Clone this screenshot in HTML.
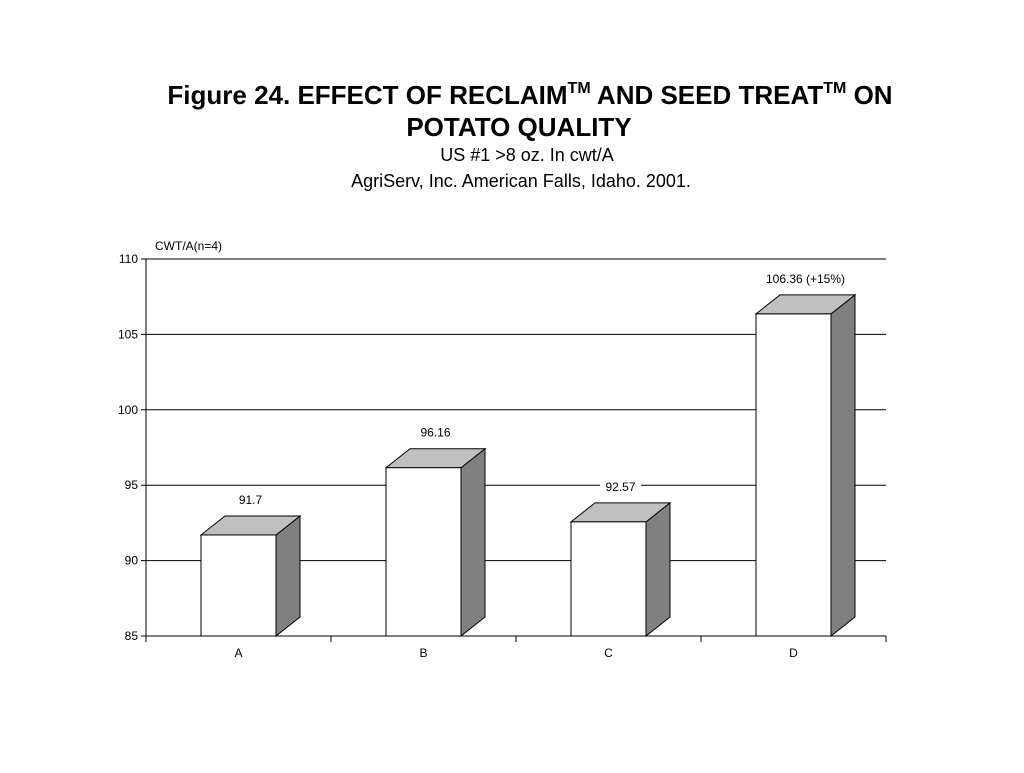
<!DOCTYPE html>
<html><head><meta charset="utf-8"><style>
body{margin:0;background:#fff;width:1024px;height:768px;overflow:hidden;font-family:"Liberation Sans",sans-serif}
</style></head><body>
<svg width="1024" height="768" xmlns="http://www.w3.org/2000/svg" font-family="Liberation Sans, sans-serif">
<g text-anchor="middle">
<text x="530" y="104" font-size="26" font-weight="bold">Figure 24. EFFECT OF RECLAIM<tspan font-size="16" dy="-11">TM</tspan><tspan dy="11"> AND SEED TREAT</tspan><tspan font-size="16" dy="-11">TM</tspan><tspan dy="11"> ON</tspan></text>
<text x="519" y="136" font-size="26" font-weight="bold">POTATO QUALITY</text>
<text x="527" y="161" font-size="18">US #1 &gt;8 oz. In cwt/A</text>
<text x="521" y="187" font-size="18">AgriServ, Inc.  American Falls, Idaho. 2001.</text>
</g>
<text x="155" y="250" font-size="12">CWT/A(n=4)</text>
<g id="plot"></g>
</svg>
<script>
const categories=["A","B","C","D"];
const values=[91.7,96.16,92.57,106.36];
const valueLabels=["91.7","96.16","92.57","106.36 (+15%)"];
const yTicks=[85,90,95,100,105,110];
const NS="http://www.w3.org/2000/svg";
const L=146,R=886,T=259,B=636,YMIN=85,YMAX=110,DX=24,DY=19,BW=75;
const y=v=>B-(v-YMIN)/(YMAX-YMIN)*(B-T);
const band=(R-L)/categories.length;
const x=i=>L+band*i+band/2;
const g=document.getElementById("plot");
function mk(tag,attrs){const e=document.createElementNS(NS,tag);for(const k in attrs)e.setAttribute(k,attrs[k]);g.appendChild(e);return e;}
yTicks.forEach(t=>{
 const ln=mk("line",{x1:L-5,x2:R,y1:y(t),y2:y(t),stroke:"#000","stroke-width":1});
 
 
 const tx=mk("text",{x:L-8,y:y(t)+4,"font-size":12,"text-anchor":"end"});tx.textContent=t;
 
 
});
const ax=mk("line",{x1:L,x2:L,y1:T,y2:B,stroke:"#000"});


for(let i=0;i<=categories.length;i++){
 const tk=mk("line",{x1:L+band*i,x2:L+band*i,y1:B,y2:B+6,stroke:"#000"});
 
 
}
categories.forEach((c,i)=>{
 const cx=x(i),x0=cx-BW/2,x1=cx+BW/2,yt=y(values[i]);
 const side=mk("polygon",{points:`${x1},${B} ${x1},${yt} ${x1+DX},${yt-DY} ${x1+DX},${B-DY}`,fill:"#808080",stroke:"#000"});
 
 
 const top=mk("polygon",{points:`${x0},${yt} ${x0+DX},${yt-DY} ${x1+DX},${yt-DY} ${x1},${yt}`,fill:"#c0c0c0",stroke:"#000"});
 
 
 const fr=mk("rect",{x:x0,y:yt,width:BW,height:B-yt,fill:"#fff",stroke:"#000"});
 
 
 const lx=cx+DX/2,ly=yt-DY-13;
 const w=valueLabels[i].length*7+6;
 const bg=mk("rect",{x:lx-w/2,y:ly-10,width:w,height:14,fill:"#fff"});
 
 
 const vl=mk("text",{x:lx,y:ly+1,"font-size":12,"text-anchor":"middle"});vl.textContent=valueLabels[i];
 
 
 const cl=mk("text",{x:cx,y:B+21,"font-size":12,"text-anchor":"middle"});cl.textContent=c;
 
 
});
const bx=mk("line",{x1:L,x2:R,y1:B,y2:B,stroke:"#000"});


</script>
</body></html>
